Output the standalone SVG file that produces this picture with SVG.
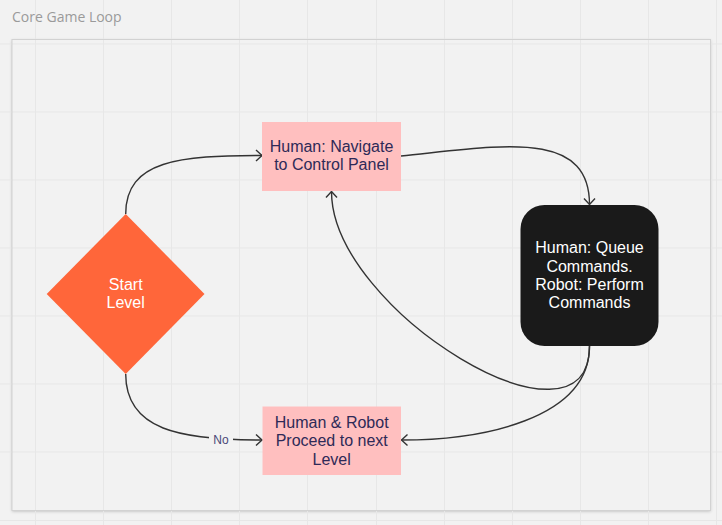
<svg xmlns="http://www.w3.org/2000/svg" width="722" height="525" viewBox="0 0 722 525">
  <defs>
    <style>
      .grid line { stroke: #e7e7e7; stroke-width: 1; }
      .conn path.c { fill: none; stroke: #333333; stroke-width: 1.4; }
      .pink { fill: #ffbfbf; }
      .navy { font-family: "Liberation Sans", Arial, sans-serif; font-size: 16px; fill: #2e2a57; text-anchor: middle; }
      .white { font-family: "Liberation Sans", Arial, sans-serif; font-size: 16px; fill: #ffffff; text-anchor: middle; }
      .lbl { font-family: "Liberation Sans", Arial, sans-serif; font-size: 12px; fill: #4a4878; text-anchor: middle; }
      .title { font-family: "Open Sans", "Liberation Sans", sans-serif; font-size: 14px; fill: #9a9a9a; }
    </style>
    <marker id="arr" markerUnits="userSpaceOnUse" markerWidth="14" markerHeight="14" viewBox="-8 -7 10 14" refX="0" refY="0" orient="auto">
      <path d="M-6,-5.5 L0,0 L-6,5.5" fill="none" stroke="#333333" stroke-width="1.4"/>
    </marker>
    <filter id="sh" x="-5%" y="-5%" width="110%" height="110%">
      <feDropShadow dx="0" dy="1" stdDeviation="1.6" flood-color="#000000" flood-opacity="0.22"/>
    </filter>
  </defs>

  <rect x="0" y="0" width="722" height="525" fill="#f2f2f2"/>
  <rect x="12" y="39.5" width="698.5" height="471" fill="#f2f2f2" filter="url(#sh)"/>

  <g class="grid">
    <line x1="35.5" y1="0" x2="35.5" y2="525"/>
    <line x1="103.5" y1="0" x2="103.5" y2="525"/>
    <line x1="171.5" y1="0" x2="171.5" y2="525"/>
    <line x1="239.5" y1="0" x2="239.5" y2="525"/>
    <line x1="307.5" y1="0" x2="307.5" y2="525"/>
    <line x1="376.5" y1="0" x2="376.5" y2="525"/>
    <line x1="444.5" y1="0" x2="444.5" y2="525"/>
    <line x1="512.5" y1="0" x2="512.5" y2="525"/>
    <line x1="580.5" y1="0" x2="580.5" y2="525"/>
    <line x1="648.5" y1="0" x2="648.5" y2="525"/>
    <line x1="716.5" y1="0" x2="716.5" y2="525"/>
    <line x1="0" y1="44" x2="722" y2="44"/>
    <line x1="0" y1="112" x2="722" y2="112"/>
    <line x1="0" y1="180" x2="722" y2="180"/>
    <line x1="0" y1="248" x2="722" y2="248"/>
    <line x1="0" y1="316" x2="722" y2="316"/>
    <line x1="0" y1="384" x2="722" y2="384"/>
    <line x1="0" y1="452" x2="722" y2="452"/>
    <line x1="0" y1="520.5" x2="722" y2="520.5"/>
  </g>
  <rect x="12" y="39.5" width="698.5" height="471" fill="none" stroke="#d2d2d2" stroke-width="1"/>

  <text class="title" x="12" y="22">Core Game Loop</text>

  <g id="connectors" class="conn">
    <path class="c" d="M125.7,214 C125.7,160 180,155.5 262,155.5" marker-end="url(#arr)"/>
    <path class="c" d="M401,156 C500,146 589.5,128 589.5,204.5" marker-end="url(#arr)"/>
    <path class="c" d="M589.5,346 C589.5,466 331.5,311 331.5,191.5" marker-end="url(#arr)"/>
    <path class="c" d="M589.5,346 C589.5,420 480,440 401.5,440" marker-end="url(#arr)"/>
    <path class="c" d="M125.7,374 C125.7,430 180,440 262,440" marker-end="url(#arr)"/>
    <rect x="209" y="432" width="24" height="15" fill="#f2f2f2"/>
    <text class="lbl" x="221" y="444">No</text>
  </g>

  <g id="node-navigate">
    <rect class="pink" x="262" y="122" width="139" height="69"/>
    <text class="navy" x="331.5" y="151.8">Human: Navigate</text>
    <text class="navy" x="331.5" y="169.8">to Control Panel</text>
  </g>

  <g id="node-commands">
    <rect x="520.5" y="205" width="138" height="141" rx="24" ry="24" fill="#1a1a1a"/>
    <text class="white" x="589.5" y="253.3">Human: Queue</text>
    <text class="white" x="589.5" y="271.6">Commands.</text>
    <text class="white" x="589.5" y="289.9">Robot: Perform</text>
    <text class="white" x="589.5" y="308.2">Commands</text>
  </g>

  <g id="node-start">
    <polygon points="125.7,214 204.5,294 125.7,374 46.7,294" fill="#ff663a"/>
    <text class="white" x="125.7" y="290">Start</text>
    <text class="white" x="125.7" y="308">Level</text>
  </g>

  <g id="node-proceed">
    <rect class="pink" x="262.5" y="406.5" width="138.5" height="68.5"/>
    <text class="navy" x="331.7" y="427.5">Human &amp; Robot</text>
    <text class="navy" x="331.7" y="446">Proceed to next</text>
    <text class="navy" x="331.7" y="464.5">Level</text>
  </g>
</svg>
